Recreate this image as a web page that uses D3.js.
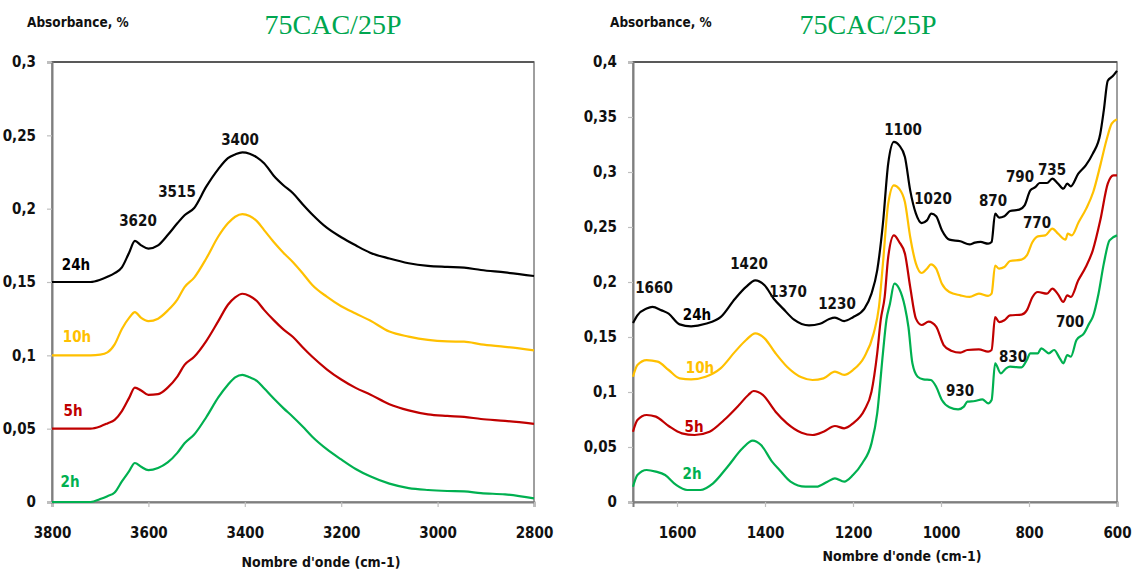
<!DOCTYPE html>
<html><head><meta charset="utf-8">
<script src="https://cdn.jsdelivr.net/npm/d3@7"></script>
<style>
body{margin:0;background:#fff;}
svg{display:block;}
.tk{font-family:"Liberation Sans Narrow","DejaVu Sans Condensed","Open Sans",sans-serif;font-weight:bold;font-size:15px;}
.ttl{font-family:"Liberation Serif","DejaVu Serif",serif;font-size:28px;}
</style></head><body>
<svg id="c" width="1136" height="573"></svg>
<script>
// ---------- Left panel (OH region) ----------
const leftWave = [3800,3720,3700,3685,3670,3655,3640,3628,3615,3600,3580,3560,3540,3525,3505,3480,3455,3435,3420,3405,3390,3375,3360,3340,3320,3300,3280,3260,3230,3200,3170,3140,3100,3060,3020,2980,2945,2910,2860,2800];
const left24h = [.150,.150,.1515,.1535,.156,.160,.170,.178,.175,.1728,.175,.182,.190,.1955,.2005,.215,.227,.2345,.237,.2384,.2375,.235,.231,.2225,.216,.2105,.203,.196,.187,.1805,.175,.170,.166,.1628,.161,.1603,.1598,.1582,.1565,.1541];
const left10h = [.100,.100,.1005,.102,.1075,.118,.1255,.1295,.1255,.1233,.125,.1305,.138,.1465,.153,.166,.181,.190,.1945,.1963,.195,.1915,.1854,.1773,.170,.1635,.156,.148,.140,.1335,.1285,.1237,.1162,.1128,.1105,.1095,.1093,.1075,.1058,.1034];
const left5h = [.050,.050,.0515,.0536,.056,.062,.071,.078,.076,.073,.0735,.078,.0855,.0935,.099,.1097,.1233,.1345,.1395,.142,.1405,.137,.131,.124,.1177,.1125,.1055,.099,.0905,.0835,.0778,.0733,.0667,.0625,.0598,.0587,.058,.0566,.0553,.0533];
const left2h = [0,0,.002,.004,.0065,.014,.021,.0266,.024,.0217,.0232,.027,.0335,.040,.046,.0578,.0713,.080,.085,.0867,.085,.0826,.0775,.0705,.064,.058,.0515,.0445,.036,.029,.0225,.0175,.0125,.0095,.0082,.0075,.0072,.006,.0052,.0025];
const leftXTicks = [3800,3600,3400,3200,3000,2800];
const leftYTicks = [0,0.05,0.1,0.15,0.2,0.25,0.3];
const leftPeaks = [["3620",138,221],["3515",177,192],["3400",240,140]];

// ---------- Right panel (fingerprint region) ----------
const rightWave24 = [1700,1690,1669,1656,1635,1619,1594,1568,1535,1501,1468,1443,1422,1401,1380,1359,1334,1300,1275,1254,1241,1220,1200,1174,1158,1145,1132,1120,1107,1095,1082,1070,1057,1044,1032,1022,1011,998,981,956,935,923,910,893,885,877,868,856,843,822,810,797,785,776,759,747,734,722,713,705,688,671,655,638,630,621,610,600];
const right24h = [.1627,.1697,.1758,.1773,.1742,.1712,.1615,.1597,.162,.168,.1848,.1955,.2015,.197,.1848,.1758,.1658,.1606,.162,.1664,.1676,.1645,.168,.1758,.1894,.2106,.253,.3076,.3273,.3242,.3136,.2833,.2621,.2536,.256,.2621,.2597,.247,.2385,.237,.2342,.2358,.2364,.2348,.2364,.2621,.2585,.2597,.2645,.2658,.2697,.2833,.2864,.29,.29,.2939,.2894,.2848,.2894,.287,.2985,.3061,.3167,.3348,.356,.383,.387,.392];
const rightWave10 = [1700,1690,1669,1644,1619,1594,1568,1535,1501,1468,1443,1422,1401,1376,1350,1317,1292,1267,1241,1220,1200,1174,1153,1141,1132,1120,1107,1095,1082,1070,1057,1044,1032,1023,1011,998,981,956,935,914,893,885,877,868,856,843,817,805,792,780,763,747,734,717,712,703,687,670,654,637,624,612,600];
const right10h = [.1139,.1245,.129,.1276,.12,.1124,.1115,.1139,.1215,.1367,.1473,.1533,.1488,.1352,.123,.1133,.1109,.1124,.1185,.1155,.12,.1321,.1533,.1773,.2167,.2712,.2879,.2848,.2727,.2409,.2167,.2082,.2121,.2161,.2121,.1985,.1909,.1879,.1864,.1894,.1873,.1894,.215,.2121,.2136,.2191,.2203,.2242,.2364,.2415,.2424,.2485,.2439,.2385,.2439,.2424,.2545,.2667,.2818,.3076,.3288,.344,.348];
const rightWave5 = [1700,1690,1669,1648,1619,1589,1560,1526,1493,1459,1438,1426,1405,1376,1350,1317,1292,1267,1241,1220,1200,1174,1158,1145,1137,1128,1120,1107,1095,1082,1070,1057,1044,1028,1011,994,977,956,940,914,893,885,877,868,856,843,817,805,792,780,759,747,734,722,713,705,688,671,655,638,621,608,600];
const right5h = [.0639,.0745,.0791,.0776,.0691,.0624,.0609,.0639,.0745,.0882,.0973,.1009,.0973,.0821,.0715,.063,.0609,.0639,.0691,.067,.0715,.0836,.1003,.1352,.1655,.1864,.2227,.2424,.2364,.2258,.1955,.1667,.1609,.164,.1594,.1427,.1376,.1358,.1382,.1388,.1367,.1382,.1682,.1636,.1652,.1697,.1703,.1742,.1864,.1909,.1894,.1939,.1888,.1818,.1879,.1864,.2015,.2136,.2288,.2561,.2894,.297,.297];
const rightWave2 = [1700,1690,1669,1648,1627,1602,1577,1547,1518,1485,1451,1428,1409,1384,1367,1342,1308,1283,1258,1241,1220,1200,1179,1158,1145,1132,1124,1116,1106,1095,1082,1074,1065,1053,1040,1023,1011,998,981,961,948,940,923,906,893,885,877,864,852,843,817,805,797,780,772,755,743,730,722,713,705,692,675,663,655,642,630,617,600];
const right2h = [.0139,.0245,.0291,.0276,.0245,.0155,.0109,.0109,.017,.0321,.0488,.0558,.0518,.0367,.0291,.0185,.0139,.0139,.0185,.0215,.0185,.0245,.0352,.0533,.0806,.1352,.1655,.1803,.1985,.1939,.1773,.1591,.1261,.1139,.1115,.1109,.1048,.0927,.0861,.0842,.0867,.0912,.0918,.0933,.0897,.0927,.1261,.117,.1215,.123,.1224,.1291,.1352,.1352,.1397,.1352,.1382,.1306,.1261,.1336,.1321,.1473,.1533,.1624,.1682,.1894,.2167,.2379,.2424];
const rightXTicks = [1600,1400,1200,1000,800,600];
const rightYTicks = [0,0.05,0.1,0.15,0.2,0.25,0.3,0.35,0.4];
const rightPeaks = [["1660",654,288],["1420",749,264],["1370",788,292],["1230",837,304],["1100",903,130],["1020",933,199],["870",993,201],["790",1020,177],["735",1052,170],["770",1037,223],["700",1070,322],["830",1013,357],["930",960,391]];

const colors = {"24h":"#000000","10h":"#FFC000","5h":"#C00000","2h":"#00B050"};

const svg = d3.select("#c");
const fmt = v => String(v).replace(".", ",");

function panel(opts){
  const g = svg.append("g");
  const x = d3.scaleLinear().domain(opts.xdom).range([opts.x0, opts.x1]);
  const y = d3.scaleLinear().domain(opts.ydom).range([opts.y1, opts.y0]);
  g.append("rect").attr("x",opts.x0).attr("y",opts.y0).attr("width",opts.x1-opts.x0).attr("height",opts.y1-opts.y0)
    .attr("fill","none").attr("stroke","#7f7f7f").attr("stroke-width",1.5);
  g.append("line").attr("x1",opts.x0).attr("x2",opts.x1).attr("y1",opts.y0).attr("y2",opts.y0).attr("stroke","#595959").attr("stroke-width",2);
  const ax = g.append("g").attr("transform",`translate(0,${opts.y1})`)
    .call(d3.axisBottom(x).tickValues(opts.xt).tickSize(5).tickPadding(20).tickFormat(d=>d));
  const ay = g.append("g").attr("transform",`translate(${opts.x0},0)`)
    .call(d3.axisLeft(y).tickValues(opts.yt).tickSize(5).tickPadding(11).tickFormat(fmt));
  [ax,ay].forEach(a=>{
    a.select(".domain").attr("stroke","#7f7f7f").attr("stroke-width",2);
    a.selectAll(".tick line").attr("stroke","#bfbfbf").attr("stroke-width",1.2);
    a.selectAll("text").attr("class","tk").attr("fill",null).style("fill","#111");
  });
  const line = d3.line().x(d=>x(d[0])).y(d=>y(d[1])).curve(d3.curveMonotoneX);
  opts.series.forEach(s=>{
    const pts = s.w.map((w,i)=>[w,s.v[i]]);
    g.append("path").attr("d",line(pts)).attr("fill","none").attr("stroke",colors[s.name]).attr("stroke-width",2.2).attr("stroke-linejoin","round");
  });
  return {g,x,y};
}

const L = panel({x0:52,x1:534,y0:62,y1:502,xdom:[3800,2800],ydom:[0,0.3],xt:leftXTicks,yt:leftYTicks,
  series:[{name:"24h",w:leftWave,v:left24h},{name:"10h",w:leftWave,v:left10h},{name:"5h",w:leftWave,v:left5h},{name:"2h",w:leftWave,v:left2h}]});
const R = panel({x0:633,x1:1117,y0:62,y1:502,xdom:[1700,600],ydom:[0,0.4],xt:rightXTicks,yt:rightYTicks,
  series:[{name:"24h",w:rightWave24,v:right24h},{name:"10h",w:rightWave10,v:right10h},{name:"5h",w:rightWave5,v:right5h},{name:"2h",w:rightWave2,v:right2h}]});

function txt(x,y,s,cls,color,anchor,size){
  const t = svg.append("text").attr("x",x).attr("y",y).attr("class",cls).attr("text-anchor",anchor||"middle")
    .attr("dominant-baseline","central").style("fill",color).text(s);
  if(size) t.style("font-size",size+"px");
  return t;
}
txt(333,24,"75CAC/25P","ttl","#00A650");
txt(868,24,"75CAC/25P","ttl","#00A650");
txt(27,22,"Absorbance, %","tk","#111","start",13.5);
txt(610,22,"Absorbance, %","tk","#111","start",13.5);
txt(321,562,"Nombre d'onde (cm-1)","tk","#111",null,14);
txt(902,556,"Nombre d'onde (cm-1)","tk","#111",null,14);

leftPeaks.forEach(([s,xx,yy])=>txt(xx,yy,s,"tk","#111"));
const leftLab = [["24h",76,265],["10h",77,337],["5h",73,411],["2h",70,482]];
leftLab.forEach(([s,xx,yy])=>txt(xx,yy,s,"tk",colors[s]));
rightPeaks.forEach(([s,xx,yy])=>txt(xx,yy,s,"tk","#111"));
const rightLab = [["24h",697,315],["10h",700,368],["5h",694,427],["2h",692,474]];
rightLab.forEach(([s,xx,yy])=>txt(xx,yy,s,"tk",colors[s]));
</script>
</body></html>
